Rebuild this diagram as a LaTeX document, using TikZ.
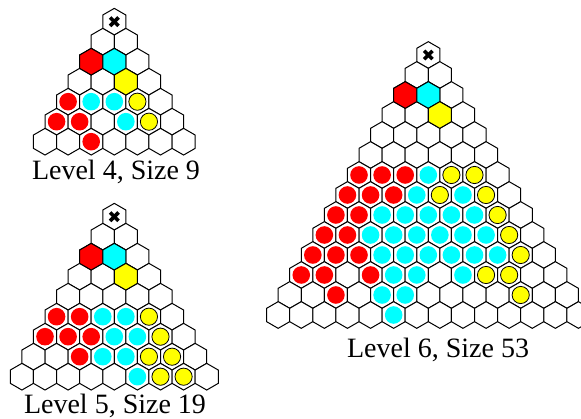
\documentclass[tikz,border=0pt]{standalone}
\usepackage{fontspec}
\setmainfont{Liberation Serif}
\definecolor{redc}{RGB}{255,0,0}
\definecolor{cyanc}{RGB}{0,255,255}
\definecolor{yelc}{RGB}{255,255,0}
\tikzset{
  hexline/.style={draw=black, line width=1pt, line join=miter},
  dotline/.style={draw=black, line width=0.8pt},
  caption/.style={font=\fontsize{28}{31}\selectfont, inner sep=0pt}
}
\newcommand\hxhex[3]{%
  \draw[hexline, fill=#3, shift={(#1,#2)}]
    (0,-13.34) -- (11.55,-6.67) -- (11.55,6.67) -- (0,13.34)
    -- (-11.55,6.67) -- (-11.55,-6.67) -- cycle;}
\newcommand\hxcX[2]{%
  \draw[line width=3.6pt, shift={(#1,#2)}] (-4.2,-4.2) -- (4.2,4.2);
  \draw[line width=3.6pt, shift={(#1,#2)}] (-4.2,4.2) -- (4.2,-4.2);}
\newcommand\hxcR[2]{\hxhex{#1}{#2}{redc}}
\newcommand\hxcC[2]{\hxhex{#1}{#2}{cyanc}}
\newcommand\hxcY[2]{\hxhex{#1}{#2}{yelc}}
\newcommand\hxcr[2]{\fill[redc] (#1,#2) circle[radius=8.8pt];}
\newcommand\hxcc[2]{\fill[cyanc] (#1,#2) circle[radius=8.8pt];}
\newcommand\hxcy[2]{\filldraw[dotline, fill=yelc] (#1,#2) circle[radius=8.6pt];}
% #1 apex x, #2 apex y, #3 rows, #4 cell list r/k/type
\newcommand\hxtri[4]{%
  \pgfmathtruncatemacro\hxlast{#3-1}%
  \foreach \r in {0,...,\hxlast}{%
    \foreach \k in {0,...,\r}{%
      \pgfmathsetmacro\cx{#1+(\k-\r/2)*23.1}%
      \pgfmathsetmacro\cy{#2+20*\r}%
      \hxhex{\cx}{\cy}{white}%
    }%
  }%
  \foreach \r/\k/\t in {#4}{%
    \pgfmathsetmacro\cx{#1+(\k-\r/2)*23.1}%
    \pgfmathsetmacro\cy{#2+20*\r}%
    \csname hxc\t\endcsname{\cx}{\cy}%
  }%
}
\begin{document}
\begin{tikzpicture}[x=1pt,y=-1pt]
\path[use as bounding box, clip] (0,0) rectangle (581,419);
% Level 4
\hxtri{114.3}{21.7}{7}{0/0/X,2/0/R,2/1/C,3/2/Y,
  4/0/r,4/1/c,4/2/c,4/3/y,
  5/0/r,5/1/r,5/3/c,5/4/y,
  6/2/r}
% Level 5
\hxtri{114.3}{216.7}{9}{0/0/X,2/0/R,2/1/C,3/2/Y,
  5/0/r,5/1/r,5/2/c,5/3/c,5/4/y,
  6/0/r,6/1/r,6/2/r,6/3/c,6/4/c,6/5/y,
  7/2/r,7/3/c,7/4/c,7/5/y,7/6/y,
  8/5/c,8/6/y,8/7/y}
% Level 6
\hxtri{428.3}{55}{14}{0/0/X,2/0/R,2/1/C,3/2/Y,
  6/0/r,6/1/r,6/2/r,6/3/c,6/4/y,6/5/y,
  7/0/r,7/1/r,7/2/r,7/3/c,7/4/y,7/5/c,7/6/y,
  8/0/r,8/1/r,8/2/c,8/3/c,8/4/c,8/5/c,8/6/c,8/7/y,
  9/0/r,9/1/r,9/2/c,9/3/c,9/4/c,9/5/c,9/6/c,9/7/c,9/8/y,
  10/0/r,10/1/r,10/2/r,10/3/c,10/4/c,10/5/c,10/6/c,10/7/c,10/8/c,10/9/y,
  11/0/r,11/1/r,11/3/r,11/4/c,11/5/c,11/7/c,11/8/y,11/9/y,
  12/2/r,12/4/c,12/5/c,12/10/y,
  13/5/c}
\node[caption] (cap4) at (116,172) {Level 4, Size 9};
\node[caption] (cap5) at (115,406) {Level 5, Size 19};
\node[caption] (cap6) at (438,350) {Level 6, Size 53};
\end{tikzpicture}
\end{document}
